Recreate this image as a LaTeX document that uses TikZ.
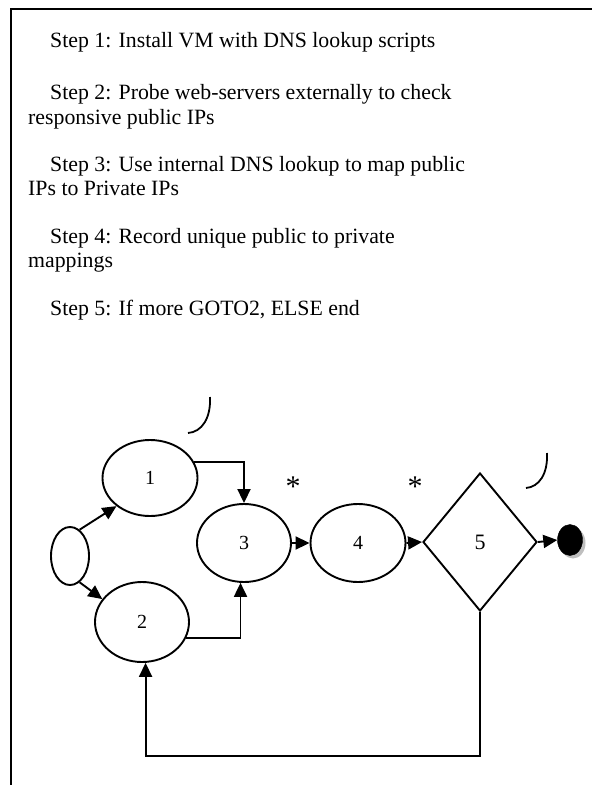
\documentclass[tikz,border=0pt]{standalone}
\usepackage{fontspec}
\setmainfont{Liberation Serif}
\usetikzlibrary{shapes.geometric,arrows.meta}
\begin{document}
\begin{tikzpicture}[x=1pt,y=-1pt,
  txt/.style={anchor=base west,inner sep=0pt,font=\fontsize{21.8pt}{24pt}\selectfont},
  oval/.style={draw,ellipse,line width=1.9pt,inner sep=0pt,font=\fontsize{20pt}{22pt}\selectfont},
  arr/.style={line width=1.9pt,-{Triangle[length=14pt,width=13pt]}},
  arcline/.style={line width=1.8pt},
  starsty/.style={font=\fontsize{30pt}{30pt}\selectfont,inner sep=0pt}]
\useasboundingbox (0,0) rectangle (592,785);
% frame
\draw[line width=2.2pt] (10,9) -- (592,9);
\draw[line width=2.2pt] (11,9) -- (11,785);
% texts
\node[txt] (t1) at (50,47) {Step 1: Install VM with DNS lookup scripts};
\node[txt] (t2) at (50,99) {Step 2: Probe web-servers externally to check};
\node[txt] (t2b) at (28,124) {responsive public IPs};
\node[txt] (t3) at (50,171) {Step 3: Use internal DNS lookup to map public};
\node[txt] (t3b) at (28,195) {IPs to Private IPs};
\node[txt] (t4) at (50,243) {Step 4: Record unique public to private};
\node[txt] (t4b) at (28,267) {mappings};
\node[txt] (t5) at (50,315) {Step 5: If more GOTO2, ELSE end};
% nodes
\node[oval,minimum width=38pt,minimum height=58pt] (s) at (70,556) {};
\node[oval,minimum width=95pt,minimum height=76pt] (e1) at (150,478) {1};
\node[oval,minimum width=94pt,minimum height=80pt] (e2) at (142,622) {2};
\node[oval,minimum width=94pt,minimum height=78pt] (e3) at (244,543) {3};
\node[oval,minimum width=95pt,minimum height=78pt] (e4) at (358,543) {4};
\node[draw,diamond,line width=1.9pt,inner sep=0pt,minimum width=114pt,minimum height=138pt,font=\fontsize{22pt}{24pt}\selectfont] (d5) at (480,542) {5};
\node[ellipse,fill=gray!50,minimum width=25pt,minimum height=31pt,inner sep=0pt] (endsh) at (573,543) {};
\node[ellipse,fill=black,draw,minimum width=25pt,minimum height=31pt,inner sep=0pt] (end) at (570,540) {};
% stars
\node[starsty] (st1) at (293,487) {*};
\node[starsty] (st2) at (415,487) {*};
% arcs
\draw[arcline] (210,397) .. controls (211,418) and (202,432) .. (188,433);
\draw[arcline] (547,453) .. controls (548,474) and (539,487) .. (526,488);
% connectors
\draw[arr] (s.70) -- (e1.220);
\draw[arr] (s.-70) -- (e2.150);
\draw[arr] (e1.20) -| (e3.north);
\draw[arr] (e2.-20) -| (e3.-95);
\draw[arr] (e3.east) -- (e4.west);
\draw[arr] (e4.east) -- (d5.west);
\draw[arr] (d5.east) -- (end.west);
\coordinate (lp) at (481,756);
\draw[arr] (d5.south) -- (d5.south |- lp) -| (e2.-85);
\end{tikzpicture}
\end{document}
